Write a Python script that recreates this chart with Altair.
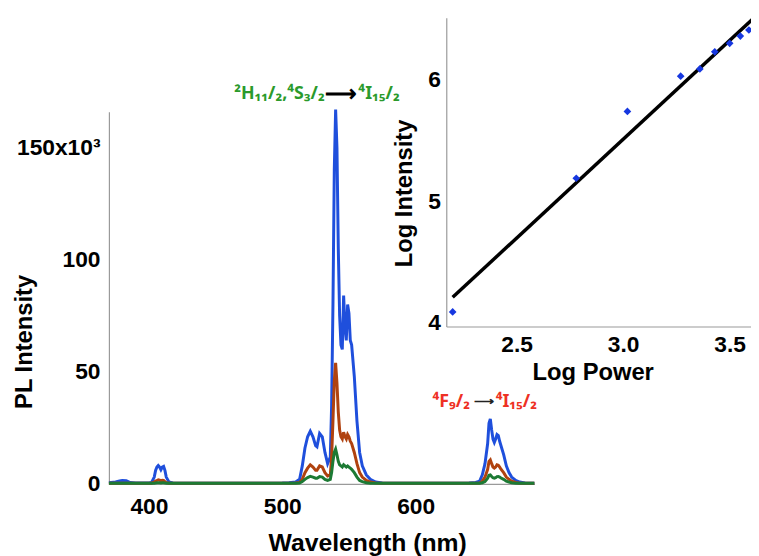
import altair as alt
import pandas as pd

# ---------------- data ----------------
wavelength = [370, 375, 378, 380, 383, 386, 390, 395, 400, 402, 404, 405, 406, 407, 408, 409, 410, 411, 412, 413,
              415, 418, 425, 450, 480, 500, 505, 510, 513, 515, 517, 519, 521, 523, 525, 526, 528, 530, 532, 534,
              536, 537, 538, 539, 540, 541, 542, 543, 544, 545, 546, 547, 548, 549, 550, 551, 552, 554, 556, 558,
              560, 563, 566, 570, 575, 590, 620, 640, 645, 648, 650, 652, 654, 655, 656, 657, 658, 659, 660, 661,
              662, 663, 664, 666, 668, 670, 672, 675, 678, 682, 689]

blue = [0.5, 0.8, 1.3, 1.5, 1.4, 0.6, 0.4, 0.4, 0.4, 0.6, 3, 6, 7.5, 8.2, 7.5, 6.3, 7.5, 7.8, 6, 3,
        0.8, 0.4, 0.3, 0.3, 0.3, 0.4, 0.5, 0.8, 2, 8, 16, 21, 23.5, 21, 17, 16.5, 22.5, 21, 14, 9,
        12, 35, 80, 140, 167, 150, 105, 75, 62, 60, 84, 70, 64, 80, 76, 64, 62, 48, 28, 14,
        8, 4, 2, 0.8, 0.4, 0.3, 0.3, 0.4, 0.6, 1.2, 4, 9, 18, 27, 29, 24, 20, 18.5, 20, 22,
        21.5, 19, 17, 13, 8, 5, 3, 1.5, 0.8, 0.4, 0.3]

brown = [0.3, 0.3, 0.3, 0.3, 0.3, 0.3, 0.3, 0.3, 0.3, 0.3, 0.8, 1.2, 1.5, 1.8, 1.6, 1.3, 1.6, 1.5, 1.0, 0.5,
         0.3, 0.3, 0.3, 0.3, 0.3, 0.3, 0.3, 0.4, 0.6, 2, 5, 7, 8.5, 7.5, 6, 6, 8, 7.5, 5, 3.5,
         4, 12, 28, 46, 54, 45, 32, 24, 21, 20, 23, 21, 20, 22, 21, 19, 18, 14, 9, 5,
         3, 1.5, 0.8, 0.4, 0.3, 0.3, 0.3, 0.3, 0.3, 0.4, 1.2, 3, 6.5, 10, 10.7, 9, 7.5, 7, 7.5, 8.5,
         8.3, 7.5, 6.5, 5, 3, 2, 1.2, 0.6, 0.3, 0.3, 0.3]

green = [0.3, 0.3, 0.3, 0.3, 0.3, 0.3, 0.3, 0.3, 0.3, 0.3, 0.3, 0.4, 0.5, 0.5, 0.5, 0.4, 0.5, 0.5, 0.4, 0.3,
         0.3, 0.3, 0.3, 0.3, 0.3, 0.3, 0.3, 0.3, 0.4, 1, 2, 2.8, 3.3, 3, 2.5, 2.5, 3.2, 3, 2, 1.5,
         2, 5, 10, 14, 15.5, 13, 10, 8.5, 8, 7.5, 8.5, 8, 7.5, 8, 7.5, 7, 6.5, 5, 3, 1.5,
         1, 0.5, 0.3, 0.3, 0.3, 0.3, 0.3, 0.3, 0.3, 0.3, 0.5, 1, 2.5, 3.8, 4, 3.3, 2.7, 2.5, 2.7, 3.2,
         3.3, 3, 2.6, 2, 1.2, 0.8, 0.5, 0.3, 0.3, 0.3, 0.3]

series_names = ["high power", "mid power", "low power"]
series_colors = ["#1f4fdc", "#b0420f", "#1c7a34"]

log_power = [2.20, 2.78, 3.02, 3.27, 3.36, 3.43, 3.50, 3.55, 3.59]
log_intensity = [4.09, 5.19, 5.74, 6.03, 6.09, 6.23, 6.30, 6.36, 6.41]
fit_power = [2.20, 3.62]
fit_intensity = [4.21, 6.52]

y_ticks = [0, 50, 100, 150]
x_ticks = [400, 500, 600]
inset_x_ticks = [2.5, 3.0, 3.5]
inset_y_ticks = [4, 5, 6]

green_left = "²H₁₁/₂,⁴S₃/₂"
red_left = "⁴F₉/₂"
right_label = "⁴I₁₅/₂"
label_wl = [543.7, 651.1]
label_val = [174, 36.7]

# ---------------- chart ----------------
FONT = "Liberation Sans"
AX = dict(ticks=False, grid=False, domainColor="#9a9a9a", domainWidth=1.2,
          labelFont=FONT, labelFontWeight="bold", labelColor="black",
          titleFont=FONT, titleFontWeight="bold", titleColor="black")

x_scale = alt.Scale(domain=[370, 689], range=[0, 430], nice=False, zero=False)
y_scale = alt.Scale(domain=[0, 166], range=[476, 100], nice=False)

main_x = alt.X("wavelength:Q", scale=x_scale,
               axis=alt.Axis(values=x_ticks, labelFontSize=23, labelPadding=12,
                             title="Wavelength (nm)", titleFontSize=25,
                             titleX=261, titleY=67, titleBaseline="alphabetic", titleAnchor="middle", **AX))
main_y = alt.Y("intensity:Q", scale=y_scale,
               axis=alt.Axis(values=y_ticks, labelFontSize=23, labelPadding=9,
                             labelExpr="datum.value == 150 ? '150x10³' : datum.label",
                             title="PL Intensity", titleFontSize=24,
                             titleX=-85, titleY=332, titleBaseline="middle", titleAngle=-90, **AX))

layers = []
for name, vals, col in zip(series_names, [blue, brown, green], series_colors):
    df = pd.DataFrame({"wavelength": wavelength, "intensity": vals, "series": name})
    layers.append(alt.Chart(df).mark_line(color=col, strokeWidth=3, interpolate="linear")
                  .encode(x=main_x, y=main_y))

def ann(text, i, color, align, dx, size=18):
    df = pd.DataFrame({"wavelength": [label_wl[i]], "intensity": [label_val[i]], "t": [text]})
    return alt.Chart(df).mark_text(align=align, baseline="middle", dx=dx, color=color,
                                   font="Noto Sans", fontWeight="bold", fontSize=size).encode(
        x=main_x, y=main_y, text="t:N")

GREEN_TXT = "#2b9a2b"
RED_TXT = "#ee3124"
layers += [
    ann(green_left, 0, GREEN_TXT, "right", -16),
    ann("⟶", 0, "black", "center", 0, 22),
    ann(right_label, 0, GREEN_TXT, "left", 18),
    ann(red_left, 1, RED_TXT, "right", -14),
    ann("⟶", 1, "#222222", "center", 0, 14),
    ann(right_label, 1, RED_TXT, "left", 12),
]
main = alt.layer(*layers)

ix_scale = alt.Scale(domain=[2.17, 3.60], range=[341, 649], nice=False, zero=False)
iy_scale = alt.Scale(domain=[3.97, 6.51], range=[317, 5], nice=False, zero=False)
inset_x = alt.X("lp:Q", scale=ix_scale,
                axis=alt.Axis(orient="bottom", offset=-159, values=inset_x_ticks, format=".1f",
                              labelFontSize=23, labelPadding=7, title="Log Power", titleFontSize=24,
                              titleX=489, titleY=47, titleBaseline="middle", titleAnchor="middle", **AX))
inset_y = alt.Y("li:Q", scale=iy_scale,
                axis=alt.Axis(orient="left", offset=-341, values=inset_y_ticks,
                              labelFontSize=23, labelPadding=6, title="Log  Intensity", titleFontSize=24,
                              titleX=-42, titleY=182, titleBaseline="middle", titleAngle=-90, **AX))

pts = alt.Chart(pd.DataFrame({"lp": log_power, "li": log_intensity})).mark_point(
    shape="diamond", filled=True, color="#1637e0", size=60, opacity=1).encode(x=inset_x, y=inset_y)
fit = alt.Chart(pd.DataFrame({"lp": fit_power, "li": fit_intensity})).mark_line(
    color="black", strokeWidth=3.5).encode(x=inset_x, y=inset_y)
inset = alt.layer(fit, pts)

chart = alt.layer(main, inset).resolve_scale(x="independent", y="independent").properties(
    width=649, height=476,
    autosize=alt.AutoSizeParams(type="none"),
    padding={"left": 102, "top": 2, "right": 0, "bottom": 70},
).configure_view(stroke=None)

chart.save("out.html", embed_options={"renderer": "svg", "actions": False})
